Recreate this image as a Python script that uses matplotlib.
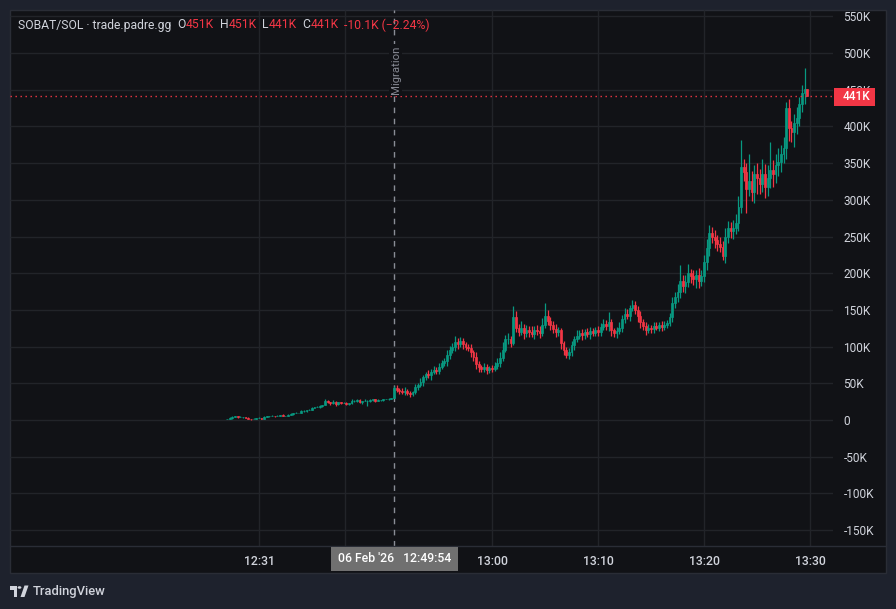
import matplotlib
matplotlib.use("Agg")
import matplotlib.pyplot as plt
from matplotlib.patches import Rectangle, Polygon, Circle
from matplotlib.lines import Line2D
import numpy as np

# ---------------- data (prices in thousands) ----------------
closes = [
    2, 3, 4, 5, 4, 4, 4, 3, 2, 1,
    2, 3, 3, 2, 4, 5, 5, 6, 5, 6,
    7, 6, 6, 7, 8, 9, 10, 10, 12, 12,
    13, 14, 17, 18, 18, 19, 20, 26, 24, 23,
    25, 22, 24, 23, 23, 22, 23, 26, 26, 27,
    24, 26, 26, 26, 27, 28, 26, 27, 27, 28,
    28, 29, 30, 44, 41, 40, 38, 40, 37, 36,
    38, 45, 48, 52, 58, 62, 61, 66, 68, 67,
    72, 78, 80, 88, 95, 100, 106, 104, 108, 103,
    100, 98, 92, 86, 76, 72, 70, 72, 68, 71,
    70, 74, 78, 85, 96, 110, 110, 105, 140, 125,
    120, 126, 118, 122, 120, 117, 123, 121, 119, 130,
    142, 135, 130, 124, 120, 122, 105, 95, 88, 92,
    102, 110, 115, 118, 116, 120, 117, 121, 119, 122,
    120, 127, 131, 128, 133, 122, 118, 121, 125, 138,
    145, 142, 152, 156, 150, 142, 133, 128, 122, 126,
    124, 128, 126, 129, 127, 130, 132, 140, 160, 168,
    175, 190, 183, 188, 200, 196, 192, 198, 190, 196,
    215, 235, 255, 250, 245, 240, 236, 224, 250, 262,
    258, 262, 268, 290, 345, 338, 315, 325, 310, 335,
    330, 322, 335, 318, 330, 340, 335, 348, 352, 362,
    370, 425, 398, 392, 405, 412, 430, 445, 451.1, 441.0,
]
first_open = 2

up_wick = [
    0, 1, 1, 1, 0, 1, 0, 0, 1, 0,
    1, 0, 1, 0, 1, 1, 0, 1, 0, 1,
    0, 1, 0, 1, 1, 0, 1, 0, 1, 1,
    0, 1, 1, 0, 1, 1, 0, 2, 1, 1,
    2, 1, 1, 0, 1, 1, 0, 2, 1, 1,
    1, 0, 2, 1, 1, 0, 1, 1, 0, 1,
    1, 1, 0, 3, 4, 2, 3, 5, 2, 3,
    2, 4, 3, 5, 3, 4, 6, 3, 5, 4,
    6, 4, 5, 7, 6, 5, 8, 6, 5, 4,
    3, 4, 5, 3, 6, 4, 3, 5, 4, 3,
    4, 5, 6, 8, 10, 6, 8, 5, 15, 8,
    6, 9, 5, 7, 6, 8, 5, 6, 7, 9,
    17, 8, 6, 5, 7, 5, 4, 3, 5, 6,
    5, 4, 7, 5, 6, 4, 5, 6, 4, 5,
    6, 5, 7, 5, 14, 5, 4, 6, 8, 5,
    7, 6, 5, 7, 6, 5, 6, 4, 5, 5,
    4, 6, 5, 4, 6, 5, 4, 6, 8, 7,
    10, 21, 8, 9, 12, 6, 8, 7, 9, 8,
    10, 12, 10, 8, 9, 7, 10, 8, 12, 9,
    8, 10, 12, 15, 36, 10, 12, 37, 14, 12,
    15, 12, 20, 14, 18, 39, 14, 15, 18, 12,
    15, 8, 12, 10, 12, 15, 10, 12, 29, 0,
]

lo_wick = [
    0, 0, 1, 0, 1, 0, 1, 0, 1, 1,
    0, 1, 0, 1, 0, 0, 1, 0, 1, 0,
    1, 0, 1, 0, 0, 1, 0, 1, 0, 1,
    1, 0, 0, 1, 0, 1, 1, 0, 1, 2,
    1, 3, 1, 1, 0, 1, 2, 1, 1, 2,
    1, 2, 0, 7, 1, 1, 2, 0, 1, 1,
    0, 1, 1, 0, 3, 4, 2, 4, 3, 4,
    3, 2, 4, 3, 5, 3, 4, 6, 3, 4,
    5, 3, 4, 6, 5, 4, 6, 7, 5, 6,
    5, 4, 6, 5, 7, 6, 4, 5, 6, 4,
    5, 3, 4, 6, 5, 4, 7, 6, 3, 5,
    6, 4, 8, 5, 7, 4, 6, 5, 7, 5,
    4, 6, 8, 5, 7, 6, 8, 6, 4, 5,
    5, 6, 4, 5, 7, 5, 4, 6, 5, 4,
    5, 6, 4, 5, 7, 8, 5, 6, 4, 5,
    6, 5, 7, 4, 6, 8, 7, 5, 6, 4,
    5, 6, 4, 5, 6, 4, 5, 4, 6, 8,
    7, 9, 8, 10, 7, 9, 8, 12, 10, 8,
    8, 10, 12, 9, 11, 10, 7, 6, 10, 9,
    10, 12, 9, 10, 8, 12, 33, 10, 12, 14,
    22, 14, 12, 16, 13, 14, 18, 12, 15, 14,
    12, 15, 18, 13, 20, 15, 12, 10, 14, 0,
]

price_ticks = [-150, -100, -50, 0, 50, 100, 150, 200, 250, 300, 350, 400, 450, 500, 550]
time_tick_pos = [12.1, 44.5, 100, 140, 180, 220]
time_tick_labels = ["12:31", "", "13:00", "13:10", "13:20", "13:30"]
migration_idx = 63
crosshair_text = "06 Feb '26   12:49:54"
symbol_text = "SOBAT/SOL · trade.padre.gg"

# ---------------- style ----------------
plt.rcParams['font.family'] = ['Roboto', 'DejaVu Sans']
OUTER = '#1e222d'
PANE = '#111216'
GRID = '#222429'
BORDER = '#2a2d36'
TXT = '#d1d4dc'
GREEN = '#089981'
RED = '#f23645'

W, H = 896, 609
def fx(px):
    return px / W
def fy(py):
    return 1 - py / H

fig = plt.figure(figsize=(W / 100, H / 100), dpi=100, facecolor=OUTER)

# outer framed panel
fig.add_artist(Rectangle((fx(10), fy(573)), 876 / W, 563 / H, transform=fig.transFigure,
                         facecolor=PANE, edgecolor=BORDER, linewidth=1, zorder=-1))

ax = fig.add_axes([fx(10), fy(546), 823 / W, 536 / H])
ax.set_facecolor(PANE)
ax.patch.set_edgecolor('none')
ax.set_frame_on(False)

# scales: 50K per 36.7 px, 0 at y=420
kpp = 50 / 36.7
ymin, ymax = (420 - 546) * kpp, (420 - 10) * kpp
xmin, xmax = (10 - 227) / 2.65, (833 - 227) / 2.65
ax.set_ylim(ymin, ymax)
ax.set_xlim(xmin, xmax)

# ticks (labels only) and explicit grid lines
ax.set_yticks(price_ticks)
ax.set_yticklabels([("0" if v == 0 else f"{v}K") for v in price_ticks])
ax.set_xticks(time_tick_pos)
ax.set_xticklabels(time_tick_labels, fontweight='medium')
ax.yaxis.tick_right()
ax.tick_params(axis='y', length=0, pad=7.5, labelsize=8.6, labelcolor=TXT)
ax.tick_params(axis='x', length=0, pad=6.5, labelsize=8.8, labelcolor=TXT)
ax.hlines(price_ticks, xmin, xmax, colors=GRID, linewidth=1, zorder=1)
ax.vlines([p for p in time_tick_pos if p < xmax], ymin, ymax, colors=GRID, linewidth=1, zorder=1)

# candles
c = np.array(closes, dtype=float)
o = np.concatenate([[first_open], c[:-1]])
hi = np.maximum(o, c) + np.array(up_wick)
lo = np.minimum(o, c) - np.array(lo_wick)
idx = np.arange(len(c))
cols = np.where(c >= o, GREEN, RED)
ax.vlines(idx, lo, hi, colors=cols, linewidth=0.9, zorder=3)
ax.bar(idx, np.abs(c - o), bottom=np.minimum(o, c), width=0.7, color=cols,
       edgecolor=cols, linewidth=0.5, zorder=4)

# last price line
last = c[-1]
ax.axhline(last, color=RED, linestyle=(0, (1, 2.6)), linewidth=1, zorder=5)

# migration marker
ax.axvline(migration_idx, color='#8a8d96', linestyle=(0, (4, 4)), linewidth=1, zorder=2)
ax.text(migration_idx + 0.6, (420 - 70) * kpp, "Migration", rotation=90, ha='center', va='center',
        fontsize=8.2, color='#868993', zorder=6,
        bbox=dict(boxstyle='square,pad=0.15', facecolor=PANE, edgecolor='none'))

# separator between pane and time axis
fig.add_artist(Line2D([fx(10), fx(886)], [fy(546), fy(546)], transform=fig.transFigure,
                      color=BORDER, linewidth=1))

# last price label box on price scale
fig.add_artist(Rectangle((fx(834), fy(106)), 41 / W, 18 / H, transform=fig.transFigure,
                         facecolor=RED, edgecolor='none', zorder=5))
fig.text(fx(843), fy(97), f"{last:.0f}K", color='white', fontsize=8.6, ha='left', va='center',
         fontweight='medium', zorder=6)

# crosshair time label
fig.add_artist(Rectangle((fx(331), fy(571)), 127 / W, 24 / H, transform=fig.transFigure,
                         facecolor='#707070', edgecolor='none', zorder=5))
fig.text(fx(394.5), fy(559), crosshair_text, color='white', fontsize=8.8, ha='center', va='center',
         fontweight='medium', zorder=6)

# legend header, laid out left to right
o_last, h_last, l_last, c_last = o[-1], hi[-1], lo[-1], c[-1]
chg = c_last - o_last
pct = chg / o_last * 100
ty = fy(25)
fs = 8.7
renderer = fig.canvas.get_renderer()
pieces = [(symbol_text, TXT, 6.0),
          ("O", TXT, 0.3), (f"{o_last:.0f}K", RED, 5.5),
          ("H", TXT, 0.3), (f"{h_last:.0f}K", RED, 5.5),
          ("L", TXT, 0.3), (f"{l_last:.0f}K", RED, 5.5),
          ("C", TXT, 0.3), (f"{c_last:.0f}K", RED, 5.5),
          (f"-{abs(chg):.1f}K (\u2212{abs(pct):.2f}%)", RED, 0)]
xpos = 18.0
for txt, col, gap in pieces:
    t = fig.text(fx(xpos), ty, txt, color=col, fontsize=fs, va='center', ha='left')
    bb = t.get_window_extent(renderer=renderer)
    xpos += bb.width + gap

# TradingView logo
LOGO = '#d1d4dc'
fig.add_artist(Rectangle((fx(10), fy(589.5)), 6.5 / W, 4 / H, transform=fig.transFigure,
                         facecolor=LOGO, edgecolor='none'))
fig.add_artist(Rectangle((fx(13.5), fy(597)), 3 / W, 11 / H, transform=fig.transFigure,
                         facecolor=LOGO, edgecolor='none'))
fig.add_artist(Circle((fx(19.5), fy(587.5)), 1.9 / W, transform=fig.transFigure,
                      facecolor=LOGO, edgecolor='none'))
fig.add_artist(Polygon([(fx(20.5), fy(597)), (fx(24.5), fy(585.5)), (fx(28.5), fy(585.5)),
                        (fx(24.5), fy(597))], closed=True, transform=fig.transFigure,
                       facecolor=LOGO, edgecolor='none'))
fig.text(fx(33), fy(591), "TradingView", color=LOGO, fontsize=9.4, va='center', ha='left',
         fontweight='medium')

fig.savefig("out.png", dpi=100, facecolor=OUTER)
